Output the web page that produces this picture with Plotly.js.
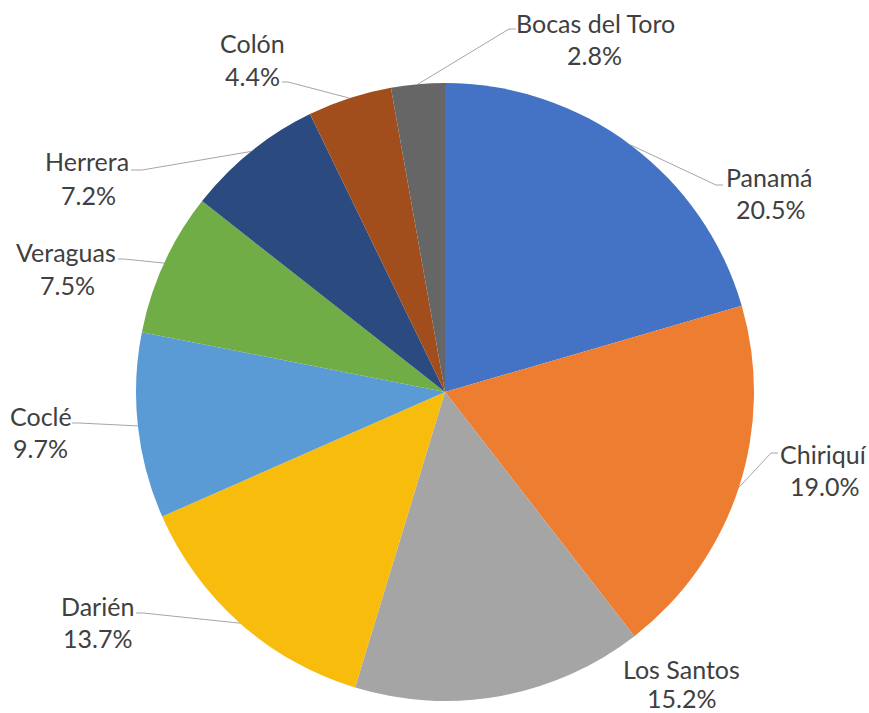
<!DOCTYPE html>
<html>
<head>
<meta charset="utf-8">
<script src="https://cdn.plot.ly/plotly-3.0.1.min.js"></script>
<style>html,body{margin:0;padding:0;background:#fff;}#chart{width:869px;height:713px;}</style>
</head>
<body>
<div id="chart"></div>
<script>
// ---- data ----
const provinces = ["Panamá", "Chiriquí", "Los Santos", "Darién", "Coclé", "Veraguas", "Herrera", "Colón", "Bocas del Toro"];
const shares = [20.5, 19.0, 15.2, 13.7, 9.7, 7.5, 7.2, 4.4, 2.8];
const sliceColors = ["#4472C4", "#ED7D31", "#A5A5A5", "#F8BC0C", "#5B9BD5", "#70AD47", "#2B4A80", "#A14D1C", "#666666"];

// ---- layout geometry (pixels) ----
const W = 869, H = 713;
const CX = 445, CY = 392, R = 309;
// label placement: name centre, percent centre, leader elbow and tick end
const labelPos = {
  "Panamá":        {name:[769,177], pct:[770,209], elbow:[716,185], tick:[723,185]},
  "Chiriquí":      {name:[823,454], pct:[824,486], elbow:[771,453], tick:[778,453]},
  "Los Santos":    {name:[681,669], pct:[681,698], elbow:null},
  "Darién":        {name:[97,606],  pct:[97,638],  elbow:[143,613], tick:[136,613]},
  "Coclé":         {name:[41,416],  pct:[40,448],  elbow:[79,423],  tick:[72,423]},
  "Veraguas":      {name:[66,252],  pct:[67,285],  elbow:[124,259], tick:[118,259]},
  "Herrera":       {name:[87,161],  pct:[88,195],  elbow:[142,170], tick:[131,170]},
  "Colón":         {name:[252,43],  pct:[252,76],  elbow:[288,82],  tick:[282,82]},
  "Bocas del Toro":{name:[595,23],  pct:[594,55],  elbow:[509,29],  tick:[516,29]}
};

const px = x => x / W;
const py = y => 1 - y / H;

const total = shares.reduce((a, b) => a + b, 0);
const annotations = [];
const shapes = [];
let cum = 0;
const fontSpec = {family: "Lato, 'Open Sans', sans-serif", size: 25, color: "#404040"};
provinces.forEach((p, i) => {
  const mid = (cum + shares[i] / 2) / total;
  cum += shares[i];
  const th = 2 * Math.PI * mid;
  const ex = CX + R * Math.sin(th), ey = CY - R * Math.cos(th);
  const L = labelPos[p];
  annotations.push({x: px(L.name[0]), y: py(L.name[1]), xref: "paper", yref: "paper", text: p,
    showarrow: false, xanchor: "center", yanchor: "middle", font: fontSpec});
  annotations.push({x: px(L.pct[0]), y: py(L.pct[1]), xref: "paper", yref: "paper", text: shares[i].toFixed(1) + "%",
    showarrow: false, xanchor: "center", yanchor: "middle", font: fontSpec});
  if (L.elbow) {
    shapes.push({type: "path", xref: "paper", yref: "paper",
      path: `M ${px(ex)} ${py(ey)} L ${px(L.elbow[0])} ${py(L.elbow[1])} L ${px(L.tick[0])} ${py(L.tick[1])}`,
      line: {color: "#a6a6a6", width: 1}});
  }
});

const trace = {
  type: "pie",
  labels: provinces,
  values: shares,
  sort: false,
  direction: "clockwise",
  rotation: 0,
  textinfo: "none",
  hoverinfo: "label+percent",
  marker: {colors: sliceColors, line: {width: 0}},
  domain: {x: [(CX - R) / W, (CX + R) / W], y: [(H - CY - R) / H, (H - CY + R) / H]},
  showlegend: false
};

Plotly.newPlot("chart", [trace], {
  width: W, height: H,
  margin: {l: 0, r: 0, t: 0, b: 0},
  paper_bgcolor: "#ffffff",
  annotations: annotations,
  shapes: shapes,
  showlegend: false
}, {displayModeBar: false, staticPlot: true});
</script>
</body>
</html>
